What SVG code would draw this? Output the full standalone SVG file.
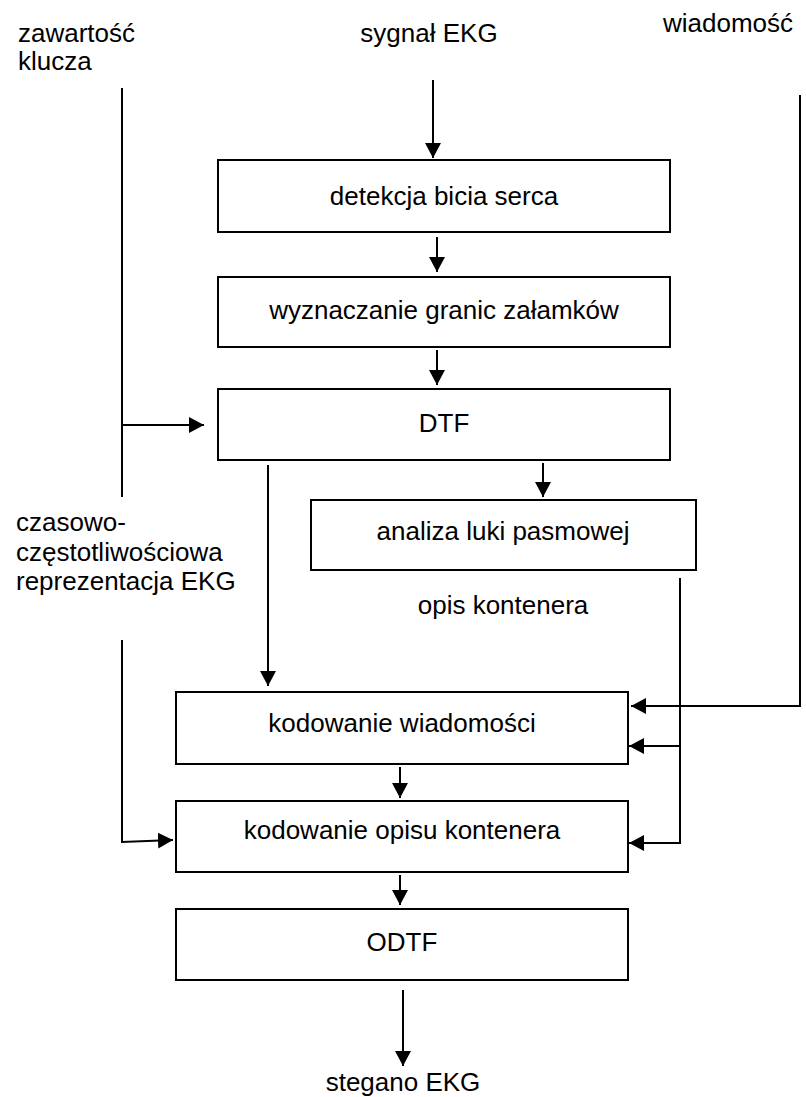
<svg xmlns="http://www.w3.org/2000/svg" width="806" height="1097" viewBox="0 0 806 1097">
<style>
.box{fill:#fff;stroke:#000;stroke-width:2}
.ln{fill:none;stroke:#000;stroke-width:2}
.ar{marker-end:url(#ah)}
text{font-family:"Liberation Sans",Arial,sans-serif;font-size:26px;fill:#000}
.c{text-anchor:middle}
</style>
<defs>
<marker id="ah" viewBox="0 0 15 16" refX="15" refY="8" markerWidth="15" markerHeight="16" markerUnits="userSpaceOnUse" orient="auto">
<path d="M0,0 L15,8 L0,16 z" fill="#000"/>
</marker>
</defs>
<rect width="806" height="1097" fill="#fff"/>
<g id="labels">
<text x="18" y="42">zawartość</text>
<text x="18" y="70">klucza</text>
<text x="429" y="42" class="c">sygnał EKG</text>
<text x="728" y="32" class="c">wiadomość</text>
<text x="16" y="531">czasowo-</text>
<text x="16" y="561">częstotliwościowa</text>
<text x="16" y="590">reprezentacja EKG</text>
<text x="503" y="614" class="c">opis kontenera</text>
<text x="403" y="1091" class="c">stegano EKG</text>
</g>
<g id="n1"><rect class="box" x="218" y="160" width="452" height="72"/><text x="444" y="205" class="c">detekcja bicia serca</text></g>
<g id="n2"><rect class="box" x="218" y="277" width="452" height="70"/><text x="444" y="319" class="c">wyznaczanie granic załamków</text></g>
<g id="n3"><rect class="box" x="218" y="389" width="452" height="71"/><text x="444" y="432" class="c">DTF</text></g>
<g id="n4"><rect class="box" x="311" y="500" width="385" height="70"/><text x="503" y="540" class="c">analiza luki pasmowej</text></g>
<g id="n5"><rect class="box" x="176" y="692" width="452" height="72"/><text x="402" y="732" class="c">kodowanie wiadomości</text></g>
<g id="n6"><rect class="box" x="176" y="801" width="452" height="71"/><text x="402" y="839" class="c">kodowanie opisu kontenera</text></g>
<g id="n7"><rect class="box" x="176" y="909" width="452" height="71"/><text x="402" y="951" class="c">ODTF</text></g>
<g id="connectors">
<path class="ln ar" d="M433,80 V158"/>
<path class="ln ar" d="M437,237 V272"/>
<path class="ln ar" d="M437,350 V385"/>
<path class="ln ar" d="M543,463 V497"/>
<path class="ln ar" d="M268,465 V686"/>
<path class="ln ar" d="M400,767 V798"/>
<path class="ln ar" d="M400,875 V905"/>
<path class="ln ar" d="M403,990 V1066"/>
<path class="ln" d="M122,88 V497"/>
<path class="ln ar" d="M122,425 H204"/>
<path class="ln ar" d="M122,640 V842 L173,840"/>
<path class="ln ar" d="M800,95 V706 H631"/>
<path class="ln ar" d="M680,578 V843 H629"/>
<path class="ln ar" d="M680,746 H629"/>
</g>
</svg>
